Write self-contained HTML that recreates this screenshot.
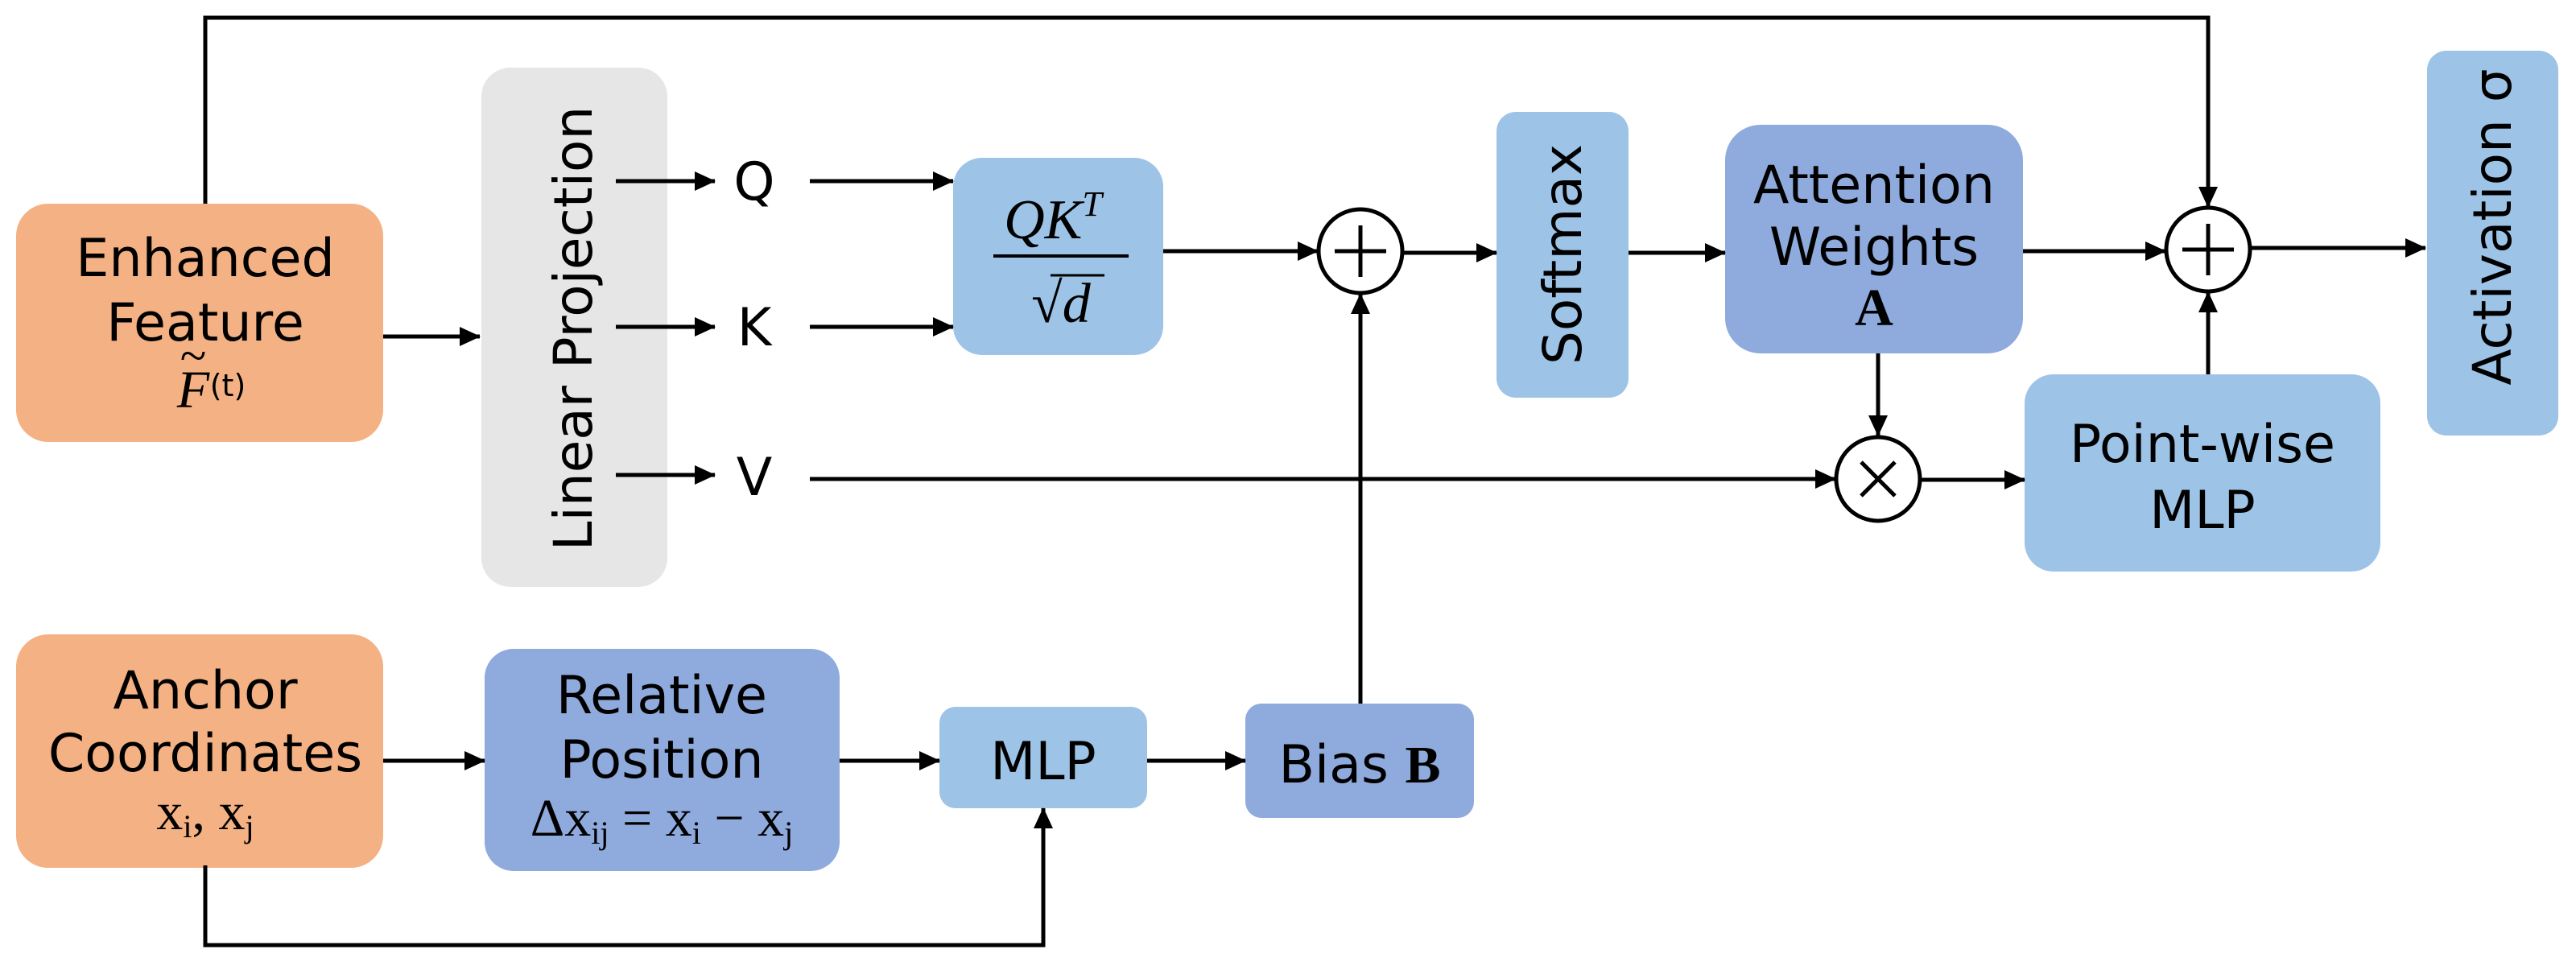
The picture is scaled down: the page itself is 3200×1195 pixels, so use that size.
<!DOCTYPE html>
<html><head><meta charset="utf-8"><style>
html,body{margin:0;padding:0;background:#fff;}
svg{display:block;}
text{font-family:"DejaVu Sans","Liberation Sans",sans-serif;fill:#000;}
.s{font-family:"Liberation Serif","DejaVu Serif",serif;}
</style></head><body>
<svg width="3200" height="1195" viewBox="0 0 3200 1195" xmlns="http://www.w3.org/2000/svg">
<defs>
<marker id="a" markerUnits="userSpaceOnUse" markerWidth="26" markerHeight="24" refX="25" refY="12" orient="auto">
<path d="M0,0 L26,12 L0,24 Z" fill="#000"/></marker>
</defs>
<rect x="20" y="253" width="456" height="296" rx="40" fill="#F4B183"/>
<rect x="20" y="788" width="456" height="290" rx="40" fill="#F4B183"/>
<rect x="598" y="84" width="231" height="645" rx="36" fill="#E6E6E6"/>
<rect x="1184" y="196" width="261" height="245" rx="36" fill="#9DC3E6"/>
<rect x="1859" y="139" width="164" height="355" rx="24" fill="#9DC3E6"/>
<rect x="2143" y="155" width="370" height="284" rx="44" fill="#8FAADC"/>
<rect x="3015" y="63" width="163" height="478" rx="24" fill="#9DC3E6"/>
<rect x="2515" y="465" width="442" height="245" rx="36" fill="#9DC3E6"/>
<rect x="602" y="806" width="441" height="276" rx="36" fill="#8FAADC"/>
<rect x="1167" y="878" width="258" height="126" rx="20" fill="#9DC3E6"/>
<rect x="1547" y="874" width="284" height="142" rx="20" fill="#8FAADC"/>
<g stroke="#000" stroke-width="5" fill="none">
<path d="M255,253 V22 H2743 V257" marker-end="url(#a)"/>
<path d="M476,418 H596" marker-end="url(#a)"/>
<path d="M765,225 H888" marker-end="url(#a)"/>
<path d="M1006,225 H1184" marker-end="url(#a)"/>
<path d="M765,406 H888" marker-end="url(#a)"/>
<path d="M1006,406 H1184" marker-end="url(#a)"/>
<path d="M765,590 H888" marker-end="url(#a)"/>
<path d="M1006,595 H2280" marker-end="url(#a)"/>
<path d="M1445,312 H1637" marker-end="url(#a)"/>
<path d="M1743,314 H1859" marker-end="url(#a)"/>
<path d="M2023,314 H2143" marker-end="url(#a)"/>
<path d="M2513,312 H2690" marker-end="url(#a)"/>
<path d="M2796,308 H3013" marker-end="url(#a)"/>
<path d="M2333,439 V541" marker-end="url(#a)"/>
<path d="M2386,596 H2515" marker-end="url(#a)"/>
<path d="M2743,465 V363" marker-end="url(#a)"/>
<path d="M1690,874 V365" marker-end="url(#a)"/>
<path d="M476,945 H602" marker-end="url(#a)"/>
<path d="M1043,945 H1167" marker-end="url(#a)"/>
<path d="M1425,945 H1547" marker-end="url(#a)"/>
<path d="M255,1075 V1174 H1296 V1004" marker-end="url(#a)"/>
<circle cx="1690" cy="312" r="52" fill="#fff"/>
<path d="M1658,312 H1722 M1690,280 V344"/>
<circle cx="2743" cy="310" r="52" fill="#fff"/>
<path d="M2711,310 H2775 M2743,278 V342"/>
<circle cx="2333" cy="595" r="52" fill="#fff"/>
<path d="M2312,574 L2354,616 M2354,574 L2312,616"/>
</g>
<g font-size="65" text-anchor="middle">
<text x="255" y="343">Enhanced</text>
<text x="255" y="423">Feature</text>
<text class="s" x="240" y="506" font-style="italic" font-size="66">F</text>
<text x="240" y="462" font-size="60" class="s">~</text>
<text x="283" y="492" font-size="38">(t)</text>
<text x="255" y="880">Anchor</text>
<text x="255" y="958">Coordinates</text>
<text class="s" x="255" y="1030" font-size="66">x<tspan font-size="40" dy="10">i</tspan><tspan dy="-10">, x</tspan><tspan font-size="40" dy="10">j</tspan></text>
<text x="822" y="886">Relative</text>
<text x="822" y="966">Position</text>
<text class="s" x="822" y="1038" font-size="66">Δx<tspan font-size="40" dy="10">ij</tspan><tspan dy="-10"> = x</tspan><tspan font-size="40" dy="10">i</tspan><tspan dy="-10"> − x</tspan><tspan font-size="40" dy="10">j</tspan></text>
<text x="1296" y="968">MLP</text>
<text x="1689" y="972">Bias <tspan class="s" font-weight="bold" font-size="66">B</tspan></text>
<text x="2328" y="252">Attention</text>
<text x="2328" y="329">Weights</text>
<text class="s" x="2328" y="404" font-weight="bold" font-size="66">A</text>
<text x="2736" y="574">Point-wise</text>
<text x="2736" y="656">MLP</text>
<text x="937" y="248">Q</text>
<text x="937" y="429">K</text>
<text x="937" y="615">V</text>
<text font-size="66" transform="translate(735,408) rotate(-90)">Linear Projection</text>
<text font-size="66" transform="translate(1964,316) rotate(-90)">Softmax</text>
<text font-size="66" transform="translate(3119,282) rotate(-90)">Activation σ</text>
<text class="s" x="1308" y="296" font-style="italic" font-size="70">QK<tspan font-size="44" dy="-28">T</tspan></text>
<text class="s" x="1318" y="400" font-size="70">√<tspan font-style="italic">d</tspan></text>
</g>
<line x1="1234" y1="318" x2="1402" y2="318" stroke="#000" stroke-width="4"/>
<line x1="1305" y1="342" x2="1372" y2="342" stroke="#000" stroke-width="3"/>
</svg>
</body></html>
